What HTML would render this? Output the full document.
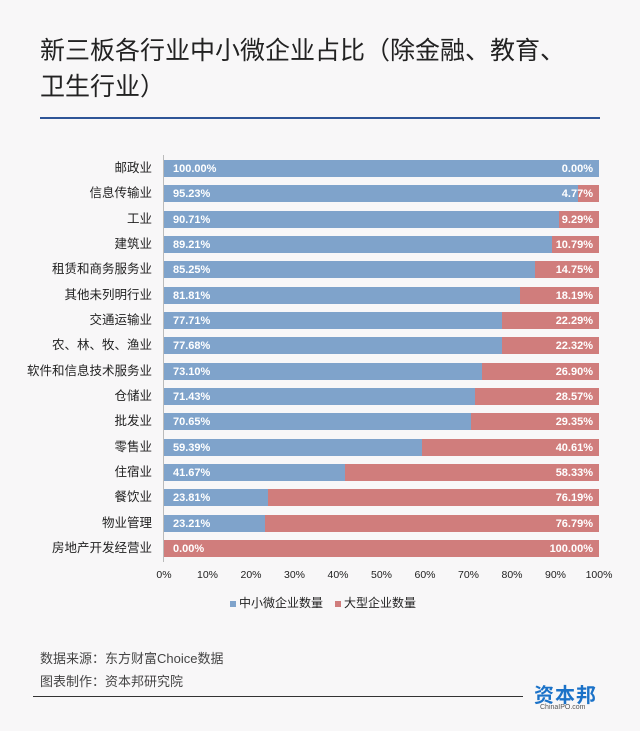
<!DOCTYPE html>
<html><head><meta charset="utf-8"><style>
body{margin:0;width:640px;height:731px;background:#f8f7f8;position:relative;font-family:"Liberation Sans","Noto Sans CJK SC",sans-serif;overflow:hidden}
.t{position:absolute;left:40px;font-size:25px;color:#222;line-height:34px}
.cat{position:absolute;right:488px;font-size:12.5px;color:#222;white-space:nowrap;line-height:17px}
.bar{position:absolute;left:164px;width:435px;height:17px;background:#d07d7c}
.b{position:absolute;left:0;top:0;height:17px;background:#7fa3cb}
.l1,.l2{position:absolute;top:1px;line-height:17px;font-size:11px;font-weight:bold;color:#fff}
.l1{left:9px}.l2{right:6px}
.tk{position:absolute;top:569px;font-size:10.5px;color:#222;width:40px;text-align:center}
.f{position:absolute;left:40px;font-size:13px;color:#444}
</style></head><body>
<div class="t" style="top:34px">新三板各行业中小微企业占比（除金融、教育、</div>
<div class="t" style="top:70px">卫生行业）</div>
<div style="position:absolute;left:40px;top:117px;width:560px;height:2px;background:#2e5597"></div>
<div style="position:absolute;left:163px;top:155px;width:1px;height:407px;background:#bbb"></div>
<div id="c"></div>
<div style="position:absolute;left:230px;top:596px;font-size:12px;color:#222;line-height:14px"><span style="display:inline-block;width:6px;height:6px;background:#7fa3cb;margin-right:3px"></span>中小微企业数量　<span style="display:inline-block;width:6px;height:6px;background:#d07d7c;margin-right:3px"></span>大型企业数量</div>
<div class="f" style="top:648px">数据来源：东方财富Choice数据</div>
<div class="f" style="top:671px">图表制作：资本邦研究院</div>
<div style="position:absolute;left:33px;top:696px;width:490px;height:1px;background:#333"></div>
<div style="position:absolute;left:534px;top:679px;font-size:20px;font-weight:bold;color:#1b72c8;letter-spacing:1px">资本邦</div>
<div style="position:absolute;left:540px;top:704px;font-size:7px;color:#555">ChinaIPO.com</div>
<script>
var d=[["邮政业",100,"100.00%","0.00%"],["信息传输业",95.23,"95.23%","4.77%"],["工业",90.71,"90.71%","9.29%"],["建筑业",89.21,"89.21%","10.79%"],["租赁和商务服务业",85.25,"85.25%","14.75%"],["其他未列明行业",81.81,"81.81%","18.19%"],["交通运输业",77.71,"77.71%","22.29%"],["农、林、牧、渔业",77.68,"77.68%","22.32%"],["软件和信息技术服务业",73.10,"73.10%","26.90%"],["仓储业",71.43,"71.43%","28.57%"],["批发业",70.65,"70.65%","29.35%"],["零售业",59.39,"59.39%","40.61%"],["住宿业",41.67,"41.67%","58.33%"],["餐饮业",23.81,"23.81%","76.19%"],["物业管理",23.21,"23.21%","76.79%"],["房地产开发经营业",0,"0.00%","100.00%"]];
var h="";d.forEach(function(r,i){var y=160+i*25.33;
h+='<div class="cat" style="top:'+y+'px">'+r[0]+'</div><div class="bar" style="top:'+y+'px"><div class="b" style="width:'+(r[1]*4.35)+'px"></div><div class="l1">'+r[2]+'</div><div class="l2">'+r[3]+'</div></div>';});
for(var k=0;k<=10;k++)h+='<div class="tk" style="left:'+(144+k*43.5)+'px">'+(k*10)+'%</div>';
document.getElementById("c").innerHTML=h;
</script>
</body></html>
